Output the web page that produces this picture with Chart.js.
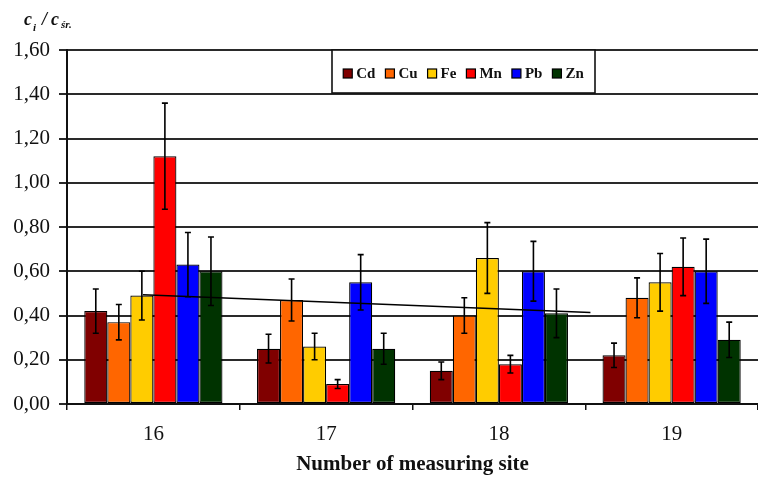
<!DOCTYPE html>
<html>
<head>
<meta charset="utf-8">
<script src="https://cdn.jsdelivr.net/npm/chart.js@4/dist/chart.umd.min.js"></script>
<style>
  html, body { margin: 0; padding: 0; background: #fff; }
  canvas { display: block; }
</style>
</head>
<body>
<canvas id="chart" width="758" height="477"></canvas>
<script>
// Measuring sites (categories)
const sites = ['16', '17', '18', '19'];

// Metals shown in every group
const metals = ['Cd', 'Cu', 'Fe', 'Mn', 'Pb', 'Zn'];
const metalColors = ['#800000', '#ff6600', '#ffcc00', '#ff0000', '#0000ff', '#003300'];

// Ratio c_i / c_sr for each metal at sites 16..19
const cdValues = [0.42, 0.25, 0.15, 0.22];
const cuValues = [0.37, 0.47, 0.40, 0.48];
const feValues = [0.49, 0.26, 0.66, 0.55];
const mnValues = [1.12, 0.09, 0.18, 0.62];
const pbValues = [0.63, 0.55, 0.60, 0.60];
const znValues = [0.60, 0.25, 0.41, 0.29];

// Standard deviations (half-length of error bars)
const cdErrors = [0.10, 0.065, 0.04, 0.055];
const cuErrors = [0.08, 0.095, 0.08, 0.09];
const feErrors = [0.11, 0.06, 0.16, 0.13];
const mnErrors = [0.24, 0.02, 0.04, 0.13];
const pbErrors = [0.145, 0.125, 0.135, 0.145];
const znErrors = [0.155, 0.07, 0.11, 0.08];

// Trend line end points (x in category index units, y in ratio units)
const trendX = [-0.06, 2.53];
const trendY = [0.494, 0.413];

// Value axis range
const yMin = 0;
const yMax = 1.6;
const yStep = 0.2;

const seriesValues = [cdValues, cuValues, feValues, mnValues, pbValues, znValues];
const seriesErrors = [cdErrors, cuErrors, feErrors, mnErrors, pbErrors, znErrors];

const SERIF = '"Liberation Serif", "Times New Roman", serif';

const barDatasets = metals.map((m, i) => ({
  label: m,
  data: seriesValues[i],
  errors: seriesErrors[i],
  backgroundColor: metalColors[i],
  borderColor: '#000',
  borderWidth: 1.2,
  borderSkipped: false,
  categoryPercentage: 0.8,
  barPercentage: 1.0
}));

// Error bars and trend line, positioned through the chart's own scales
const overlayPlugin = {
  id: 'overlay',
  afterDatasetsDraw(chart) {
    const ctx = chart.ctx;
    const xScale = chart.scales.x;
    const yScale = chart.scales.y;
    ctx.save();

    // trend line
    ctx.strokeStyle = '#000';
    ctx.lineWidth = 1.5;
    ctx.beginPath();
    trendX.forEach((xv, i) => {
      const px = xScale.getPixelForValue(xv);
      const py = yScale.getPixelForValue(trendY[i]);
      if (i === 0) ctx.moveTo(px, py); else ctx.lineTo(px, py);
    });
    ctx.stroke();

    // error bars
    ctx.lineWidth = 1.6;
    chart.data.datasets.forEach((ds, di) => {
      if (!ds.errors) return;
      const meta = chart.getDatasetMeta(di);
      meta.data.forEach((bar, i) => {
        const v = ds.data[i];
        const e = ds.errors[i];
        const x = bar.x;
        const yTop = yScale.getPixelForValue(v + e);
        const yBot = yScale.getPixelForValue(v - e);
        const cap = 3;
        ctx.beginPath();
        ctx.moveTo(x, yTop); ctx.lineTo(x, yBot);
        ctx.moveTo(x - cap, yTop); ctx.lineTo(x + cap, yTop);
        ctx.moveTo(x - cap, yBot); ctx.lineTo(x + cap, yBot);
        ctx.stroke();
      });
    });
    ctx.restore();
  }
};

// Boxed legend along the top of the plot and the value-axis caption
const decorPlugin = {
  id: 'decor',
  afterDraw(chart) {
    const ctx = chart.ctx;
    ctx.save();

    // legend box
    const bx = 332, by = 50, bw = 263, bh = 43;
    ctx.fillStyle = '#fff';
    ctx.fillRect(bx, by, bw, bh);
    ctx.strokeStyle = '#111';
    ctx.lineWidth = 1.6;
    ctx.strokeRect(bx, by, bw, bh);

    ctx.font = 'bold 15px ' + SERIF;
    ctx.textBaseline = 'middle';
    const sq = 9, gap = 4, spacing = 10;
    const items = chart.data.datasets.map(d => ({ label: d.label, color: d.backgroundColor, w: ctx.measureText(d.label).width }));
    const total = items.reduce((s, it) => s + sq + gap + it.w, 0) + spacing * (items.length - 1);
    let x = bx + (bw - total) / 2;
    const cy = by + bh / 2 + 2;
    items.forEach(it => {
      ctx.fillStyle = it.color;
      ctx.fillRect(x, cy - sq / 2, sq, sq);
      ctx.strokeStyle = '#000';
      ctx.lineWidth = 1.2;
      ctx.strokeRect(x, cy - sq / 2, sq, sq);
      ctx.fillStyle = '#111';
      ctx.textAlign = 'left';
      ctx.fillText(it.label, x + sq + gap, cy + 1);
      x += sq + gap + it.w + spacing;
    });

    // value-axis caption: c_i / c_sr.
    ctx.fillStyle = '#111';
    ctx.textAlign = 'left';
    ctx.textBaseline = 'alphabetic';
    ctx.font = 'italic bold 18px ' + SERIF;
    ctx.fillText('c', 24, 25);
    ctx.font = 'italic bold 11px ' + SERIF;
    ctx.fillText('i', 33, 31);
    ctx.font = 'italic bold 18px ' + SERIF;
    ctx.fillText('/', 42, 25);
    ctx.fillText('c', 51, 25);
    ctx.font = 'italic bold 11px ' + SERIF;
    ctx.fillText('śr.', 61, 28);

    ctx.restore();
  }
};

new Chart(document.getElementById('chart'), {
  type: 'bar',
  data: {
    labels: sites,
    datasets: barDatasets
  },
  options: {
    responsive: false,
    devicePixelRatio: 1,
    animation: false,
    layout: { padding: { top: 50, right: 0, bottom: 0, left: 0 } },
    plugins: {
      legend: { display: false },
      tooltip: { enabled: false }
    },
    scales: {
      x: {
        type: 'category',
        offset: true,
        grid: {
          offset: true,
          drawOnChartArea: false,
          drawTicks: true,
          tickLength: 6,
          color: '#111',
          lineWidth: 1.5
        },
        border: { display: true, color: '#111', width: 2 },
        ticks: {
          color: '#111',
          font: { family: SERIF, size: 21 },
          padding: 12
        },
        title: {
          display: true,
          text: 'Number of measuring site',
          color: '#111',
          font: { family: SERIF, size: 21, weight: 'bold' },
          padding: { top: 0, bottom: 0 }
        },
        afterFit(scale) { scale.height = 73; }
      },
      y: {
        min: yMin,
        max: yMax,
        ticks: {
          stepSize: yStep,
          color: '#111',
          font: { family: SERIF, size: 21 },
          padding: 9,
          callback: v => v.toFixed(2).replace('.', ',')
        },
        grid: {
          color: '#2a2a2a',
          lineWidth: 2,
          tickLength: 8
        },
        border: { display: true, color: '#111', width: 2 },
        afterFit(scale) { scale.width = 67; }
      }
    }
  },
  plugins: [overlayPlugin, decorPlugin]
});
</script>
</body>
</html>
